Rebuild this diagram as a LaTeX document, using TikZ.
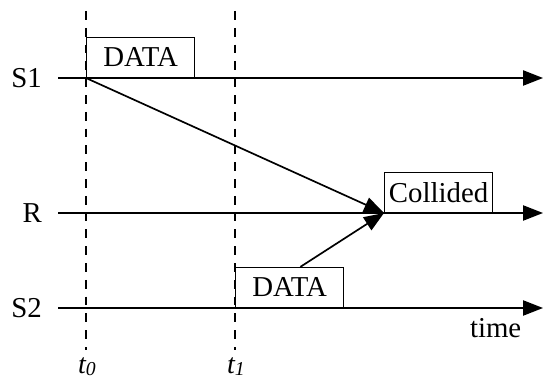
\documentclass[tikz,border=0pt]{standalone}
\usepackage{fontspec}
\setmainfont{Liberation Serif}
\usetikzlibrary{
    positioning,
    arrows.meta
    }

\begin{document}
\begin{tikzpicture}[x=0.025cm, y=-0.025cm]
\tikzset{timeline/.style =
        {
            line width=1.2pt,
            -{Triangle[length=0.5cm, width=0.38cm]}
        }
}

\tikzset{msg/.style =
        {
            timeline
        }
}

\tikzset{slot/.style =
        {
            dash pattern=on 0.22cm off 0.2cm,
            line width=0.8pt
        }
}

\tikzset{frame/.style =
        {
            rectangle,
            draw,
            line width=0.8pt,
            minimum width=2.7cm,
            minimum height=1cm,
            inner sep=0cm,
            anchor=south west,
            font=\fontsize{20.5}{22}\selectfont
        }
}

\tikzset{tag/.style = { font=\fontsize{20.5}{22}\selectfont } }

		\useasboundingbox (0,0) rectangle (544,379);

		% time slots
		\foreach \slot / \x in {0/86, 1/235}
			{
				\coordinate (top-\slot) at (\x,11);
				\coordinate (bot-\slot) at (\x,350);
				\draw [slot] (top-\slot) -- (bot-\slot);
				\node[tag, font=\fontsize{20}{22}\selectfont\itshape, anchor=base] (t\slot) at (\x+1,373) {t\raisebox{-0.1em}{\fontsize{14}{16}\selectfont\slot}};
			}

		% stations
		\foreach \station / \y in {S1/78, R/213, S2/308}
			{
				\coordinate (\station-start) at (58,\y);
				\coordinate (\station-end) at (543,\y);
				\node[tag, left=0.28cm of \station-start] (lbl-\station) {\station};
			}

		\coordinate (s1-t0) at (86,78);
		\coordinate (s2-t1) at (235,308);
		\coordinate (r-hit) at (384,213);

		\node[frame] (data1) at (s1-t0) {DATA};
		\node[frame] (data2) at (s2-t1) {DATA};
		\node[frame] (collided) at (r-hit) {Collided};

		\foreach \station in {S1, R, S2}
			\draw [timeline] (\station-start) -- (\station-end);

		\node[tag, anchor=base east, xshift=-0.42cm, yshift=-0.74cm] (time) at (S2-end) {time};

		\draw [msg] (s1-t0) -- (collided.south west);
		\draw [msg] ([xshift=0.27cm]data2.north) -- (collided.south west);

	\end{tikzpicture}
\end{document}
